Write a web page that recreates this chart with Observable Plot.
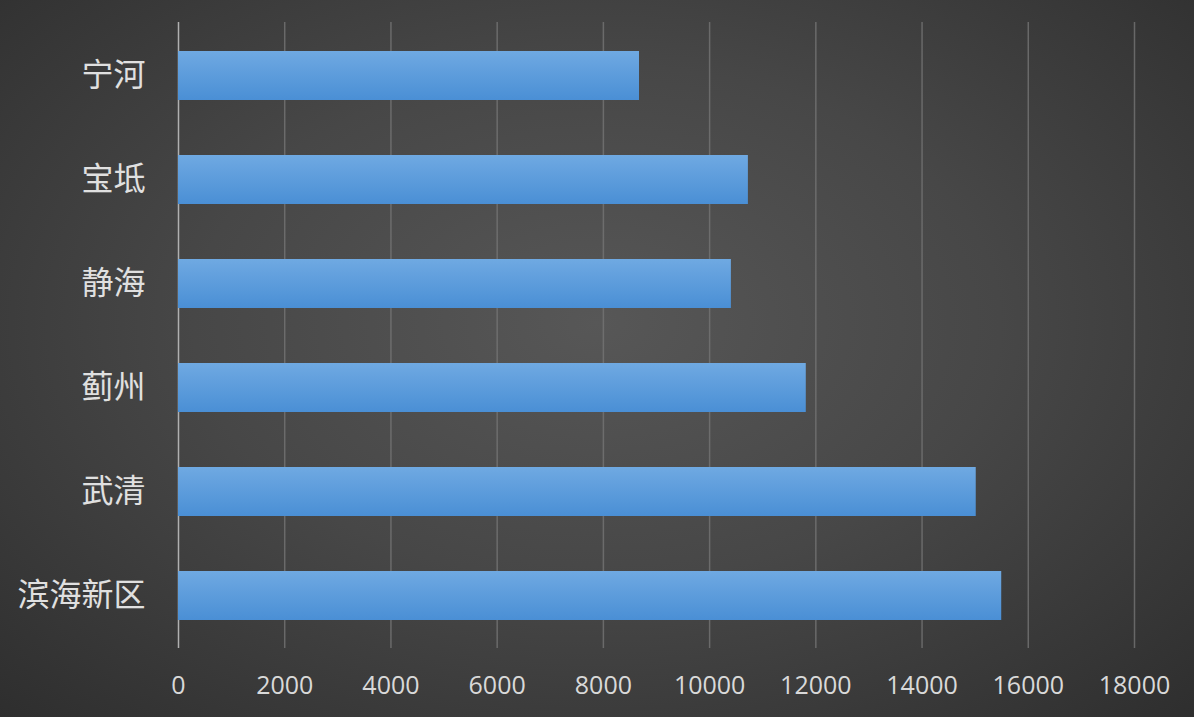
<!DOCTYPE html>
<html><head><meta charset="utf-8">
<script src="https://cdn.jsdelivr.net/npm/d3@7"></script>
<script src="https://cdn.jsdelivr.net/npm/@observablehq/plot@0.6"></script>
<style>
html,body{margin:0;padding:0;}
body{width:1194px;height:717px;overflow:hidden;
background:radial-gradient(ellipse 75% 80% at 50% 45%, #575757 0%, #474747 45%, #2c2c2c 100%);}
#chart svg{display:block;background:transparent;}
</style></head>
<body><div id="chart"></div>
<script>
const categories = ["宁河","宝坻","静海","蓟州","武清","滨海新区"];
const values = [8680, 10730, 10410, 11820, 15020, 15500];
const xTicks = [0,2000,4000,6000,8000,10000,12000,14000,16000,18000];

const data = categories.map((c,i)=>({name:c, value:values[i]}));

const chart = Plot.plot({
  width:1194, height:717,
  marginLeft:178, marginRight:60, marginTop:22, marginBottom:69,
  style:{background:"transparent", color:"#d9d9d9"},
  x:{domain:[0,18000], ticks:xTicks, label:null},
  y:{domain:categories, paddingInner:0.53, paddingOuter:0.265, label:null},
  marks:[
    Plot.gridX(xTicks.filter(d=>d>0), {stroke:"#747474", strokeOpacity:0.8, strokeWidth:1.5}),
    Plot.ruleX([0], {stroke:"#b0b0b0", strokeWidth:1.5}),
    () => {
      const svg = d3.create("svg:g");
      const g = svg.append("defs").append("linearGradient").attr("id","barGrad")
        .attr("x1",0).attr("y1",0).attr("x2",0).attr("y2",1);
      g.append("stop").attr("offset","0%").attr("stop-color","#6fa9e2");
      g.append("stop").attr("offset","100%").attr("stop-color","#4a8fd5");
      return svg.node();
    },
    Plot.barX(data, {x:"value", y:"name", fill:"url(#barGrad)",
      style:{filter:"drop-shadow(3px 3px 3px rgba(0,0,0,0.55))"}}),
    Plot.axisX({ticks:xTicks, tickFormat:d=>String(d), tickSize:0, tickPadding:28, fontSize:25,
      fontFamily:"'Open Sans', 'Noto Sans', sans-serif", fill:"#d9d9d9", label:null}),
    Plot.axisY({tickSize:0, tickPadding:33, fontSize:32,
      fontFamily:"'Noto Sans CJK SC', sans-serif", fill:"#e0e0e0", label:null})
  ]
});
document.getElementById("chart").appendChild(chart);
</script></body></html>
